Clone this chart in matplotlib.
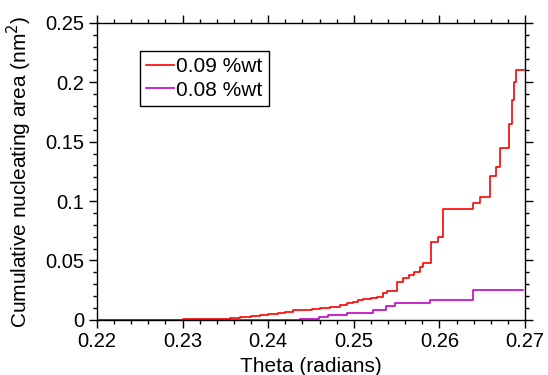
import matplotlib
matplotlib.use("Agg")
import matplotlib.pyplot as plt
from matplotlib.ticker import MultipleLocator

# cumulative nucleating area vs theta, step curves for two concentrations
theta_09 = [0.2200, 0.2270, 0.2300, 0.2320, 0.2340, 0.2355, 0.2367, 0.2380, 0.2390,
            0.2400, 0.2411, 0.2420, 0.2429, 0.2440, 0.2451, 0.2461, 0.2472, 0.2484,
            0.2492, 0.2499, 0.2505, 0.2511, 0.2520, 0.2527, 0.2534, 0.2539, 0.2551,
            0.2557, 0.2565, 0.2570, 0.2577, 0.2581, 0.2590, 0.2598, 0.2604, 0.2639,
            0.2648, 0.2659, 0.2666, 0.2671, 0.2681, 0.2685, 0.2687, 0.2689, 0.2699]
area_09 = [0.0000, 0.0002, 0.0004, 0.0006, 0.0010, 0.0016, 0.0025, 0.0034, 0.0045,
           0.0051, 0.0062, 0.0070, 0.0080, 0.0084, 0.0092, 0.0104, 0.0108, 0.0126,
           0.0140, 0.0154, 0.0165, 0.0177, 0.0183, 0.0191, 0.0224, 0.0244, 0.0323,
           0.0351, 0.0379, 0.0407, 0.0449, 0.0482, 0.0659, 0.0696, 0.0934, 0.0982,
           0.1038, 0.1210, 0.1290, 0.1448, 0.1650, 0.1850, 0.2006, 0.2100, 0.2100]

theta_08 = [0.2200, 0.2387, 0.2437, 0.2459, 0.2470, 0.2492, 0.2523, 0.2538, 0.2548,
            0.2589, 0.2639, 0.2698]
area_08 = [0.0000, 0.0002, 0.0010, 0.0022, 0.0042, 0.0056, 0.0084, 0.0121, 0.0145,
           0.0168, 0.0253, 0.0253]

labels = ["0.09 %wt", "0.08 %wt"]
xticks = [0.22, 0.23, 0.24, 0.25, 0.26, 0.27]
xticklabels = ["0.22", "0.23", "0.24", "0.25", "0.26", "0.27"]
yticks = [0, 0.05, 0.1, 0.15, 0.2, 0.25]
yticklabels = ["0", "0.05", "0.1", "0.15", "0.2", "0.25"]

plt.rcParams["font.family"] = ["Liberation Sans", "DejaVu Sans"]

fig = plt.figure(figsize=(5.48, 3.75), dpi=100)
ax = fig.add_axes([0.177, 0.147, 0.781, 0.792])

ax.plot(theta_09, area_09, drawstyle="steps-post", color="#ff0000", lw=1.2, label=labels[0])
ax.plot(theta_08, area_08, drawstyle="steps-post", color="#c400c4", lw=1.2, label=labels[1])

ax.set_xlim(0.22, 0.27)
ax.set_ylim(0, 0.25)
ax.set_xticks(xticks)
ax.set_xticklabels(xticklabels)
ax.set_yticks(yticks)
ax.set_yticklabels(yticklabels)
ax.xaxis.set_minor_locator(MultipleLocator(0.002))
ax.yaxis.set_minor_locator(MultipleLocator(0.01))

ax.tick_params(which="both", direction="out", top=True, right=True, labelsize=14.5, width=1)
ax.tick_params(which="major", length=6, pad=3)
ax.tick_params(which="minor", length=3)
for s in ax.spines.values():
    s.set_linewidth(1)

ax.set_xlabel("Theta (radians)", fontsize=15)
ax.set_ylabel("Cumulative nucleating area (nm$^2$)", fontsize=15)
ax.xaxis.set_label_coords(0.5, -0.126)
ax.yaxis.set_label_coords(-0.147, 0.5)

leg = ax.legend(loc="upper left", bbox_to_anchor=(0.1, 0.905), borderaxespad=0,
                fontsize=15, handlelength=1.35, handletextpad=0.1, fancybox=False,
                framealpha=1, edgecolor="black", borderpad=0.3, labelspacing=0.2)
leg.get_frame().set_linewidth(1)

fig.savefig("out.png", dpi=100)
